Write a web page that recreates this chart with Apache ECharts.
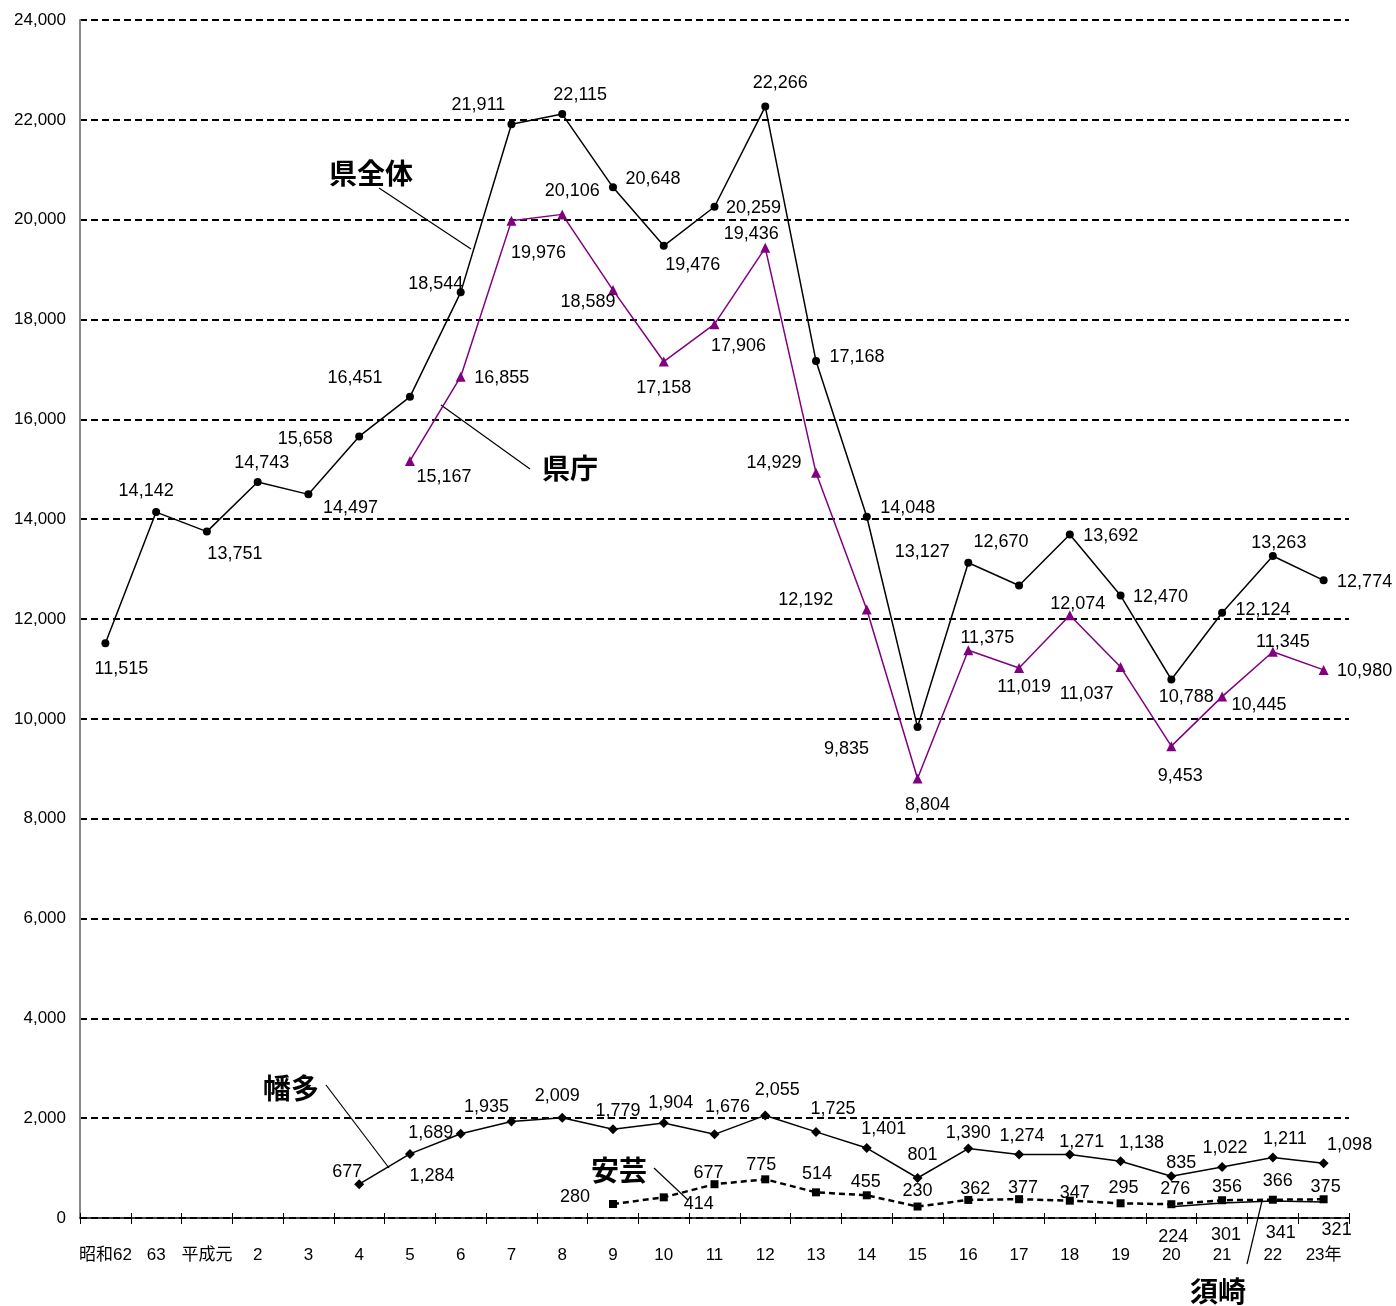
<!DOCTYPE html>
<html><head><meta charset="utf-8">
<script src="https://cdn.jsdelivr.net/npm/echarts@6/dist/echarts.min.js"></script>
<style>html,body{margin:0;padding:0;background:#fff}#c{width:1396px;height:1306px}</style>
</head><body><div id="c"></div>
<script>
const categories = ['昭和62','63','平成元','2','3','4','5','6','7','8','9','10','11','12','13','14','15','16','17','18','19','20','21','22','23年'];
const yTicks = [0,2000,4000,6000,8000,10000,12000,14000,16000,18000,20000,22000,24000];
const kenZentai = [11515,14142,13751,14743,14497,15658,16451,18544,21911,22115,20648,19476,20259,22266,17168,14048,9835,13127,12670,13692,12470,10788,12124,13263,12774];
const kenchou = [null,null,null,null,null,null,15167,16855,19976,20106,18589,17158,17906,19436,14929,12192,8804,11375,11019,12074,11037,9453,10445,11345,10980];
const hata = [null,null,null,null,null,677,1284,1689,1935,2009,1779,1904,1676,2055,1725,1401,801,1390,1274,1271,1138,835,1022,1211,1098];
const aki = [null,null,null,null,null,null,null,null,null,null,280,414,677,775,514,455,230,362,377,347,295,276,356,366,375];
const susaki = [null,null,null,null,null,null,null,null,null,null,null,null,null,null,null,null,null,null,null,null,null,224,301,341,321];

// label offsets (dx, dy) relative to each point
const offZentai = [[16,25],[-10,-22],[28,21],[4,-20],[42,13],[-54,2],[-55,-20],[-25,-9],[-33,-20],[18,-20],[40,-9],[29,18],[39,0],[15,-25],[41,-5],[41,-10],[-71,21],[-46,-12],[-18,-45],[41,0],[40,0],[15,17],[41,-4],[6,-14],[41,1]];
const offKenchou = [null,null,null,null,null,null,[34,15],[41,0],[27,31],[10,-24],[-25,11],[0,26],[24,21],[-14,-15],[-42,-11],[-61,-10],[10,25],[19,-13],[5,18],[8,-12],[-34,26],[9,29],[37,7],[10,-11],[41,0]];
const offHata = [null,null,null,null,null,[-12,-13],[22,21],[-30,-2],[-25,-15],[-5,-23],[5,-19],[7,-21],[13,-28],[12,-26],[17,-24],[17,-20],[5,-24],[0,-17],[3,-19],[12,-14],[21,-19],[10,-14],[3,-20],[12,-20],[26,-19]];
const offAki = [null,null,null,null,null,null,null,null,null,null,[-38,-8],[35,6],[-6,-12],[-4,-15],[1,-19],[-1,-14],[0,-16],[7,-12],[4,-12],[5,-9],[3,-16],[4,-16],[5,-14],[5,-20],[2,-13]];
const offSusaki = [null,null,null,null,null,null,null,null,null,null,null,null,null,null,null,null,null,null,null,null,null,[2,29],[4,31],[8,31],[13,27]];

const FONT = '"Liberation Sans", "Noto Sans CJK JP", sans-serif';
const BOLD = 'bold 28px "Noto Sans CJK JP"';
function fmt(v){ return v.toLocaleString('en-US'); }
function build(vals, offs){
  return vals.map((v,i)=> v==null ? null : {value:v, label:{offset: [offs[i][0], offs[i][1] + 1]}});
}
const baseLabel = {show:true, position:'inside', color:'#000', fontSize:18, fontFamily:FONT,
  formatter: p => fmt(p.value)};

const chart = echarts.init(document.getElementById('c'), null, {renderer:'canvas'});
chart.setOption({
  animation:false,
  backgroundColor:'#fff',
  grid:{left:80, right:47, top:20, bottom:88},
  xAxis:[{
    type:'category', data:categories, boundaryGap:true, position:'bottom',
    axisLine:{onZero:false, lineStyle:{color:'#000', width:1.5}},
    axisTick:{show:true, inside:false, length:6, interval:0, lineStyle:{color:'#000', width:1}},
    axisLabel:{interval:0, color:'#000', fontSize:17, fontFamily:FONT, margin:29},
    splitLine:{show:false}
  },{
    type:'category', data:categories, boundaryGap:true, position:'top', offset:-1198,
    axisLine:{show:false, onZero:false},
    axisTick:{show:true, inside:false, length:5, interval:0, lineStyle:{color:'#000', width:1}},
    axisLabel:{show:false}, splitLine:{show:false}
  }],
  yAxis:{
    type:'value', min:0, max:24000, interval:2000,
    axisLine:{show:true, lineStyle:{color:'#888', width:2}},
    axisTick:{show:false},
    axisLabel:{color:'#000', fontSize:17, fontFamily:FONT, margin:14,
      formatter: v => yTicks.indexOf(v) >= 0 ? fmt(v) : ''},
    splitLine:{show:true, lineStyle:{color:'#000', width:2, type:[7,4]}}
  },
  series:[
    {name:'県全体', type:'line', data:build(kenZentai, offZentai), symbol:'circle', symbolSize:8,
      itemStyle:{color:'#000'}, lineStyle:{color:'#000', width:1.5}, label:baseLabel, z:5},
    {name:'県庁', type:'line', data:build(kenchou, offKenchou), symbol:'triangle', symbolSize:10,
      itemStyle:{color:'#800080'}, lineStyle:{color:'#800080', width:1.5}, label:baseLabel, z:4},
    {name:'幡多', type:'line', data:build(hata, offHata), symbol:'diamond', symbolSize:10,
      itemStyle:{color:'#000'}, lineStyle:{color:'#000', width:1.5}, label:baseLabel, z:4},
    {name:'須崎', type:'line', data:build(susaki, offSusaki), symbol:'circle', symbolSize:2,
      itemStyle:{color:'#000'}, lineStyle:{color:'#000', width:1.5}, label:baseLabel, z:3},
    {name:'安芸', type:'line', data:build(aki, offAki), symbol:'rect', symbolSize:8,
      itemStyle:{color:'#000'}, lineStyle:{color:'#000', width:2.5, type:[6,4]}, label:baseLabel, z:4}
  ],
  graphic:[
    {type:'text', left:329, top:159, style:{text:'県全体', font:BOLD, fill:'#000'}},
    {type:'line', shape:{x1:379,y1:188,x2:471,y2:249}, style:{stroke:'#000', lineWidth:1.2}},
    {type:'text', left:542, top:454, style:{text:'県庁', font:BOLD, fill:'#000'}},
    {type:'line', shape:{x1:530,y1:469,x2:441,y2:405}, style:{stroke:'#000', lineWidth:1.2}},
    {type:'text', left:263, top:1074, style:{text:'幡多', font:BOLD, fill:'#000'}},
    {type:'line', shape:{x1:326,y1:1085,x2:389,y2:1168}, style:{stroke:'#000', lineWidth:1.2}},
    {type:'text', left:591, top:1156, style:{text:'安芸', font:BOLD, fill:'#000'}},
    {type:'line', shape:{x1:654,y1:1168,x2:688,y2:1200}, style:{stroke:'#000', lineWidth:1.2}},
    {type:'text', left:1190, top:1277, style:{text:'須崎', font:BOLD, fill:'#000'}},
    {type:'line', shape:{x1:1247,y1:1264,x2:1262,y2:1201}, style:{stroke:'#000', lineWidth:1.2}}
  ]
});
</script></body></html>
